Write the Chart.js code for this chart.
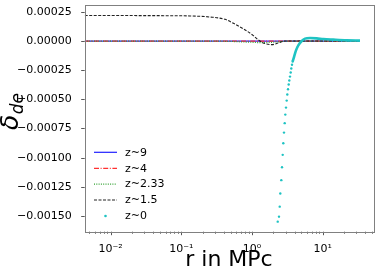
<!DOCTYPE html>
<html>
<head>
<meta charset="utf-8">
<script src="https://cdn.jsdelivr.net/npm/chart.js@4.4.1/dist/chart.umd.min.js"></script>
<style>
html,body{margin:0;padding:0;background:#fff;}
canvas{display:block;}
</style>
</head>
<body>
<canvas id="c" width="379" height="274"></canvas>
<script>
// ---- data ----
const seriesLabels = ['z~9', 'z~4', 'z~2.33', 'z~1.5', 'z~0'];

const rLine = [0.0043, 0.01, 0.03, 0.07, 0.1327, 0.2545, 0.415, 0.538, 0.746, 1.033, 1.216, 1.527, 1.919, 2.333, 2.93, 4.0, 6.0, 10, 20, 33.7];
const z9 =   [0, 0, 0, 0, 0, 0, 0, 0, 0, 0, 0, 0, 0, 0, 0, 0, 0, 0, 0, 0];
const z4 =   [0, 0, 0, 0, 0, 0, 0, 0, 0, 0, 0, 0, 0, 0, 0, 0, 0, 0, 0, 0];
const z233 = [0, 0, 0, 0, 0, 0, -0.000002, -0.000004, -0.000008, -0.000011, -0.000013, -0.000013, -0.000011, -0.000007, -0.000002, 0, 0, 0, 0, 0];
const z15 =  [0.000219, 0.000219, 0.000218, 0.000217, 0.000215, 0.000206, 0.000186, 0.000154, 0.000106, 0.000049, 0.000012, -0.000022, -0.000031, -0.000017, 0, 0, 0, 0, 0, 0];

// z~0: sparse visible markers on the steep part
const rZ0dots = [2.311, 2.410, 2.466, 2.515, 2.598, 2.658, 2.719, 2.773, 2.837, 2.902, 2.960, 3.028, 3.097, 3.159, 3.232, 3.306, 3.372, 3.449, 3.528, 3.598, 3.681, 3.766];
const z0dots  = [-0.001549, -0.001506, -0.001420, -0.001308, -0.001193, -0.001082, -0.000976, -0.000876, -0.000785, -0.000704, -0.000631, -0.000571, -0.000511, -0.000459, -0.000413, -0.000373, -0.000339, -0.000305, -0.000270, -0.000236, -0.000204, -0.000175];
// z~0: dense markers that merge into a thick band
const rZ0band = [3.766, 3.929, 4.194, 4.521, 5.05, 5.62, 6.62, 8.23, 10.2, 14.1, 21.9, 33.7];
const z0band  = [-0.000175, -0.000137, -0.000080, -0.000037, 0, 0.0000206, 0.0000257, 0.0000232, 0.0000172, 0.000012, 0.000006, 0.0000034];

const yTickValues = [0.00025, 0, -0.00025, -0.0005, -0.00075, -0.001, -0.00125, -0.0015];
const yTickLabels = ['0.00025', '0.00000', '\u22120.00025', '\u22120.00050', '\u22120.00075', '\u22120.00100', '\u22120.00125', '\u22120.00150'];
const xMajorValues = [0.01, 0.1, 1, 10];
const xMajorLabels = ['10\u207B\u00B2', '10\u207B\u00B9', '10\u2070', '10\u00B9'];
const xMinorValues = [0.005,0.006,0.007,0.008,0.009,0.02,0.03,0.04,0.05,0.06,0.07,0.08,0.09,0.2,0.3,0.4,0.5,0.6,0.7,0.8,0.9,2,3,4,5,6,7,8,9,20,30,40,50];

const xTitle = 'r in MPc';
const yTitleMain = '\u03B4';
const yTitleSub = 'de';

// ---- build ----
const pts = (xs, ys) => xs.map((x, i) => ({x: x, y: ys[i]}));
const CYAN = '#1ec3c3';
const FONT = '"DejaVu Sans", sans-serif';

const datasets = [
  {label: seriesLabels[0], data: pts(rLine, z9), showLine: true, borderColor: '#2020ff', borderWidth: 1.2, pointRadius: 0, order: 5, legendType: 'line', dash: []},
  {label: seriesLabels[1], data: pts(rLine, z4), showLine: true, borderColor: '#ff3030', borderWidth: 1.2, borderDash: [5, 1.6, 1, 1.6], pointRadius: 0, order: 4, legendType: 'line', dash: [5, 1.6, 1, 1.6]},
  {label: seriesLabels[2], data: pts(rLine, z233), showLine: true, borderColor: '#30a030', borderWidth: 1.2, borderDash: [1, 1.3], pointRadius: 0, cubicInterpolationMode: 'monotone', order: 3, legendType: 'line', dash: [1, 1.3]},
  {label: seriesLabels[3], data: pts(rLine, z15), showLine: true, borderColor: '#222', borderWidth: 1.1, borderDash: [3, 1.5], pointRadius: 0, cubicInterpolationMode: 'monotone', order: 2, legendType: 'line', dash: [3, 1.5]},
  {label: seriesLabels[4], data: pts(rZ0dots, z0dots), showLine: false, pointRadius: 1.2, pointBorderWidth: 0, pointBackgroundColor: CYAN, backgroundColor: CYAN, borderColor: CYAN, order: 1, legendType: 'dot'},
  {label: '', data: pts(rZ0band, z0band), showLine: true, borderColor: CYAN, borderWidth: 2.6, pointRadius: 0, cubicInterpolationMode: 'monotone', order: 0, legendType: 'none'}
];

const xLabelMap = {};
xMajorValues.forEach((v, i) => { xLabelMap[v] = xMajorLabels[i]; });
const yLabelMap = {};
yTickValues.forEach((v, i) => { yLabelMap[v] = yTickLabels[i]; });

const noPad = s => { s.paddingTop = 0; s.paddingBottom = 0; s.paddingLeft = 0; s.paddingRight = 0; };

const decor = {
  id: 'decor',
  afterDraw(chart) {
    const ctx = chart.ctx;
    const a = chart.chartArea;
    const xs = chart.scales.x, ys = chart.scales.y;
    ctx.save();
    // tick marks
    ctx.strokeStyle = '#444';
    ctx.lineWidth = 0.9;
    ctx.beginPath();
    yTickValues.forEach(v => {
      const y = Math.round(ys.getPixelForValue(v)) + 0.5;
      ctx.moveTo(a.left - 3.5, y); ctx.lineTo(a.left, y);
    });
    xMajorValues.forEach(v => {
      const x = Math.round(xs.getPixelForValue(v)) + 0.5;
      ctx.moveTo(x, a.bottom); ctx.lineTo(x, a.bottom + 3.5);
    });
    xMinorValues.forEach(v => {
      const x = Math.round(xs.getPixelForValue(v)) + 0.5;
      ctx.moveTo(x, a.bottom); ctx.lineTo(x, a.bottom + 2);
    });
    ctx.stroke();
    // frame
    ctx.strokeStyle = '#808080';
    ctx.lineWidth = 1;
    ctx.strokeRect(Math.round(a.left) + 0.5, Math.round(a.top) + 0.5, Math.round(a.right - a.left), Math.round(a.bottom - a.top));
    // legend (inside, lower left)
    ctx.font = '11px ' + FONT;
    ctx.textBaseline = 'middle';
    ctx.textAlign = 'left';
    const rows = [152.3, 168.3, 184.1, 200, 216];
    let k = 0;
    chart.data.datasets.forEach(ds => {
      if (ds.legendType === 'none') return;
      const y = rows[k++];
      if (ds.legendType === 'line') {
        ctx.strokeStyle = ds.borderColor;
        ctx.lineWidth = ds.borderWidth;
        ctx.setLineDash(ds.dash);
        ctx.beginPath(); ctx.moveTo(94, y); ctx.lineTo(117, y); ctx.stroke();
        ctx.setLineDash([]);
      } else {
        ctx.fillStyle = CYAN;
        ctx.beginPath(); ctx.arc(105.5, y, 1.3, 0, Math.PI * 2); ctx.fill();
      }
      ctx.fillStyle = '#000';
      ctx.fillText(ds.label, 125, y + 0.5);
    });
    // x title
    ctx.font = '22px ' + FONT;
    ctx.textAlign = 'center';
    ctx.textBaseline = 'alphabetic';
    ctx.fillText(xTitle, (a.left + a.right) / 2, 266);
    // y title (rotated)
    ctx.translate(18, 130);
    ctx.rotate(-Math.PI / 2);
    ctx.textAlign = 'left';
    ctx.font = 'italic 25px ' + FONT;
    const w = ctx.measureText(yTitleMain).width;
    ctx.fillText(yTitleMain, 0, 0);
    ctx.font = 'italic 17px ' + FONT;
    ctx.fillText(yTitleSub, w + 0.5, 5);
    ctx.restore();
  }
};

new Chart(document.getElementById('c'), {
  type: 'scatter',
  data: {datasets: datasets},
  options: {
    responsive: false,
    animation: false,
    layout: {padding: {left: 0, top: 5, right: 5.7, bottom: 0}},
    plugins: {legend: {display: false}, tooltip: {enabled: false}},
    scales: {
      x: {
        type: 'logarithmic',
        min: 0.0043, max: 52,
        grid: {display: false},
        border: {display: false},
        afterBuildTicks: s => { s.ticks = xMajorValues.map(v => ({value: v})); },
        afterFit: s => { s.height = 42.3; noPad(s); },
        ticks: {
          autoSkip: false, maxRotation: 0, padding: 3,
          color: '#000', font: {family: 'DejaVu Sans', size: 11},
          callback: v => xLabelMap[v] || ''
        }
      },
      y: {
        type: 'linear',
        min: -0.001635, max: 0.000309,
        grid: {display: false},
        border: {display: false},
        afterBuildTicks: s => { s.ticks = yTickValues.map(v => ({value: v})); },
        afterFit: s => { s.width = 84.7; noPad(s); },
        ticks: {
          autoSkip: false, padding: 5,
          color: '#000', font: {family: 'DejaVu Sans', size: 11},
          callback: v => yLabelMap[v] !== undefined ? yLabelMap[v] : ''
        }
      }
    }
  },
  plugins: [decor]
});
</script>
</body>
</html>
